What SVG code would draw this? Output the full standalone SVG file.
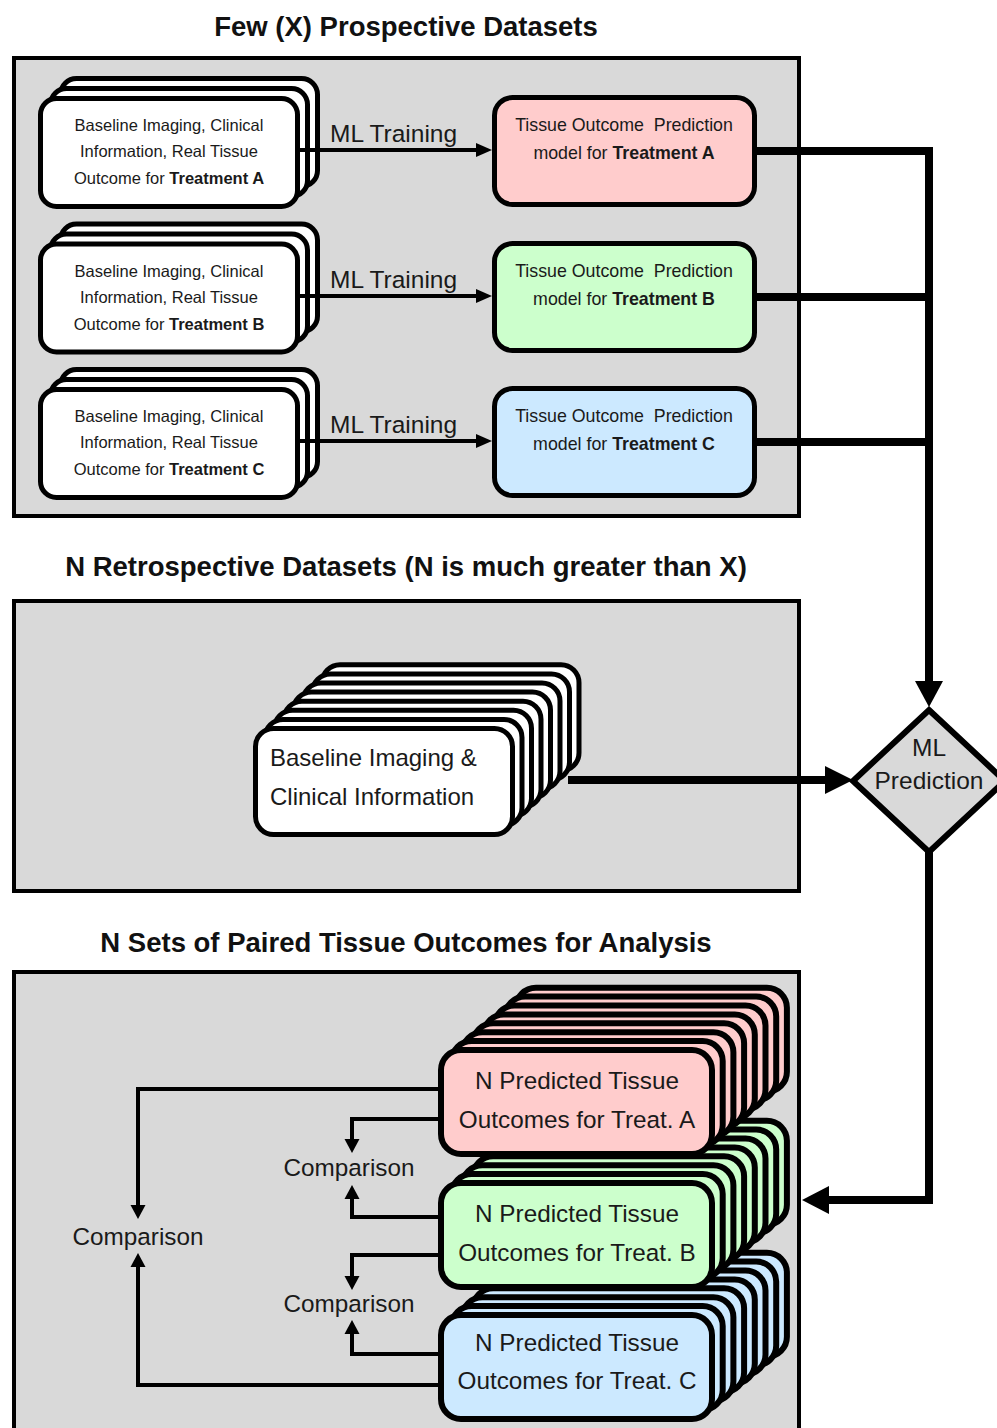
<svg xmlns="http://www.w3.org/2000/svg" width="997" height="1428" viewBox="0 0 997 1428">
<style>
.panel{fill:#d9d9d9;stroke:#000;stroke-width:4}
.lay{stroke:#000;stroke-width:5}
.lay6{stroke:#000;stroke-width:6}
.w{fill:#fff}.pk{fill:#ffcccc}.gr{fill:#ccffcc}.bl{fill:#cce9ff}
text{font-family:"Liberation Sans",Arial,sans-serif;fill:#1a1a1a}
.title{font-size:27.5px;font-weight:bold;text-anchor:middle;fill:#111}
.s16{font-size:16.5px;text-anchor:middle}
.s17{font-size:17.8px;text-anchor:middle;white-space:pre}
.s23{font-size:24px}
.s24{font-size:24.3px}
.ml{font-size:24.5px}
.c{text-anchor:middle}
.b{font-weight:bold}
.thick{fill:none;stroke:#000;stroke-width:8;stroke-linejoin:miter}
.med{fill:none;stroke:#000;stroke-width:4}
.thin{fill:none;stroke:#000;stroke-width:4;stroke-linejoin:miter}
.head{fill:#000}
</style>

<g id="panels">
<rect class="panel" x="14" y="58" width="785" height="458"/>
<rect class="panel" x="14" y="601" width="785" height="290"/>
<rect class="panel" x="14" y="972" width="785" height="470"/>
</g>

<g id="titles">
<text class="title" x="406" y="36">Few (X) Prospective Datasets</text>
<text class="title" x="406" y="576">N Retrospective Datasets (N is much greater than X)</text>
<text class="title" x="406" y="952">N Sets of Paired Tissue Outcomes for Analysis</text>
</g>

<g id="dataA">
<rect class="lay w" x="60.5" y="78.5" width="257" height="108" rx="16"/>
<rect class="lay w" x="50.5" y="88.5" width="257" height="108" rx="16"/>
<rect class="lay w" x="40.5" y="98.5" width="257" height="108" rx="16"/>
<text class="s16" x="169" y="131">Baseline Imaging, Clinical</text>
<text class="s16" x="169" y="157">Information, Real Tissue</text>
<text class="s16" x="169" y="184">Outcome for <tspan class="b">Treatment A</tspan></text>
</g>
<g id="dataB">
<rect class="lay w" x="60.5" y="224" width="257" height="108" rx="16"/>
<rect class="lay w" x="50.5" y="234" width="257" height="108" rx="16"/>
<rect class="lay w" x="40.5" y="244" width="257" height="108" rx="16"/>
<text class="s16" x="169" y="276.5">Baseline Imaging, Clinical</text>
<text class="s16" x="169" y="302.5">Information, Real Tissue</text>
<text class="s16" x="169" y="329.5">Outcome for <tspan class="b">Treatment B</tspan></text>
</g>
<g id="dataC">
<rect class="lay w" x="60.5" y="369.5" width="257" height="108" rx="16"/>
<rect class="lay w" x="50.5" y="379.5" width="257" height="108" rx="16"/>
<rect class="lay w" x="40.5" y="389.5" width="257" height="108" rx="16"/>
<text class="s16" x="169" y="422">Baseline Imaging, Clinical</text>
<text class="s16" x="169" y="448">Information, Real Tissue</text>
<text class="s16" x="169" y="475">Outcome for <tspan class="b">Treatment C</tspan></text>
</g>

<g id="modelA">
<rect class="lay pk" x="494.5" y="97.5" width="260" height="107" rx="18"/>
<text class="s17" x="624" y="131">Tissue Outcome  Prediction</text>
<text class="s17" x="624" y="159">model for <tspan class="b">Treatment A</tspan></text>
</g>
<g id="modelB">
<rect class="lay gr" x="494.5" y="243.5" width="260" height="107" rx="18"/>
<text class="s17" x="624" y="277">Tissue Outcome  Prediction</text>
<text class="s17" x="624" y="305">model for <tspan class="b">Treatment B</tspan></text>
</g>
<g id="modelC">
<rect class="lay bl" x="494.5" y="388.5" width="260" height="107" rx="18"/>
<text class="s17" x="624" y="422">Tissue Outcome  Prediction</text>
<text class="s17" x="624" y="450">model for <tspan class="b">Treatment C</tspan></text>
</g>

<g id="retro">
<rect class="lay w" x="322" y="664.8" width="257" height="106" rx="18"/>
<rect class="lay w" x="312.5" y="673.9" width="257" height="106" rx="18"/>
<rect class="lay w" x="303" y="683" width="257" height="106" rx="18"/>
<rect class="lay w" x="293.5" y="692.1" width="257" height="106" rx="18"/>
<rect class="lay w" x="284" y="701.2" width="257" height="106" rx="18"/>
<rect class="lay w" x="274.5" y="710.3" width="257" height="106" rx="18"/>
<rect class="lay w" x="265" y="719.4" width="257" height="106" rx="18"/>
<rect class="lay w" x="255.5" y="728.5" width="257" height="106" rx="18"/>
<text class="s23" x="270" y="766">Baseline Imaging &amp;</text>
<text class="s23" x="270" y="805">Clinical Information</text>
</g>

<g id="predC">
<rect class="lay6 bl" x="515.9" y="1252.7" width="271" height="104" rx="20"/>
<rect class="lay6 bl" x="505.2" y="1261.6" width="271" height="104" rx="20"/>
<rect class="lay6 bl" x="494.5" y="1270.5" width="271" height="104" rx="20"/>
<rect class="lay6 bl" x="483.8" y="1279.4" width="271" height="104" rx="20"/>
<rect class="lay6 bl" x="473.1" y="1288.3" width="271" height="104" rx="20"/>
<rect class="lay6 bl" x="462.4" y="1297.2" width="271" height="104" rx="20"/>
<rect class="lay6 bl" x="451.7" y="1306.1" width="271" height="104" rx="20"/>
<rect class="lay6 bl" x="441" y="1315" width="271" height="104" rx="20"/>
<text class="s24 c" x="577" y="1351">N Predicted Tissue</text>
<text class="s24 c" x="577" y="1389">Outcomes for Treat. C</text>
</g>
<g id="predB">
<rect class="lay6 gr" x="515.9" y="1120.7" width="271" height="104" rx="20"/>
<rect class="lay6 gr" x="505.2" y="1129.6" width="271" height="104" rx="20"/>
<rect class="lay6 gr" x="494.5" y="1138.5" width="271" height="104" rx="20"/>
<rect class="lay6 gr" x="483.8" y="1147.4" width="271" height="104" rx="20"/>
<rect class="lay6 gr" x="473.1" y="1156.3" width="271" height="104" rx="20"/>
<rect class="lay6 gr" x="462.4" y="1165.2" width="271" height="104" rx="20"/>
<rect class="lay6 gr" x="451.7" y="1174.1" width="271" height="104" rx="20"/>
<rect class="lay6 gr" x="441" y="1183" width="271" height="104" rx="20"/>
<text class="s24 c" x="577" y="1222">N Predicted Tissue</text>
<text class="s24 c" x="577" y="1261">Outcomes for Treat. B</text>
</g>
<g id="predA">
<rect class="lay6 pk" x="515.9" y="987.7" width="271" height="104" rx="20"/>
<rect class="lay6 pk" x="505.2" y="996.6" width="271" height="104" rx="20"/>
<rect class="lay6 pk" x="494.5" y="1005.5" width="271" height="104" rx="20"/>
<rect class="lay6 pk" x="483.8" y="1014.4" width="271" height="104" rx="20"/>
<rect class="lay6 pk" x="473.1" y="1023.3" width="271" height="104" rx="20"/>
<rect class="lay6 pk" x="462.4" y="1032.2" width="271" height="104" rx="20"/>
<rect class="lay6 pk" x="451.7" y="1041.1" width="271" height="104" rx="20"/>
<rect class="lay6 pk" x="441" y="1050" width="271" height="104" rx="20"/>
<text class="s24 c" x="577" y="1089">N Predicted Tissue</text>
<text class="s24 c" x="577" y="1128">Outcomes for Treat. A</text>
</g>

<g id="mlpred">
<polygon points="929,710 1005,781 929,852 853,781" fill="#d9d9d9" stroke="#000" stroke-width="6" stroke-linejoin="miter"/>
<text class="ml c" x="929" y="756">ML</text>
<text class="ml c" x="929" y="789">Prediction</text>
</g>

<g id="comparisons">
<text class="s24 c" x="138" y="1245">Comparison</text>
<text class="s24 c" x="349" y="1176">Comparison</text>
<text class="s24 c" x="349" y="1312">Comparison</text>
</g>

<g id="connectors">
<path class="med" d="M300 150 H478"/>
<polygon class="head" points="476,143 476,157 492,150"/>
<path class="med" d="M300 296 H478"/>
<polygon class="head" points="476,289 476,303 492,296"/>
<path class="med" d="M300 441 H478"/>
<polygon class="head" points="476,434 476,448 492,441"/>
<text class="ml" x="330" y="142">ML Training</text>
<text class="ml" x="330" y="288">ML Training</text>
<text class="ml" x="330" y="433">ML Training</text>

<path class="thick" d="M757 151 H929 V684"/>
<path class="thick" d="M757 297 H929"/>
<path class="thick" d="M757 442 H929"/>
<polygon class="head" points="915,681 943,681 929,707"/>

<path class="thick" d="M568 780 H828" stroke-width="7"/>
<polygon class="head" points="825,766 825,794 853,780"/>

<path class="thick" d="M929 852 V1200 H828"/>
<polygon class="head" points="829,1186 829,1214 802,1200"/>

<path class="thin" d="M439 1089 H138 V1206"/>
<polygon class="head" points="130.5,1205 145.5,1205 138,1219"/>
<path class="thin" d="M439 1385 H138 V1266"/>
<polygon class="head" points="130.5,1267 145.5,1267 138,1253"/>
<path class="thin" d="M439 1119 H352 V1140"/>
<polygon class="head" points="344.5,1139 359.5,1139 352,1153"/>
<path class="thin" d="M439 1217 H352 V1198"/>
<polygon class="head" points="344.5,1199 359.5,1199 352,1185"/>
<path class="thin" d="M439 1255 H352 V1277"/>
<polygon class="head" points="344.5,1276 359.5,1276 352,1290"/>
<path class="thin" d="M439 1354 H352 V1333"/>
<polygon class="head" points="344.5,1334 359.5,1334 352,1320"/>
</g>
</svg>
